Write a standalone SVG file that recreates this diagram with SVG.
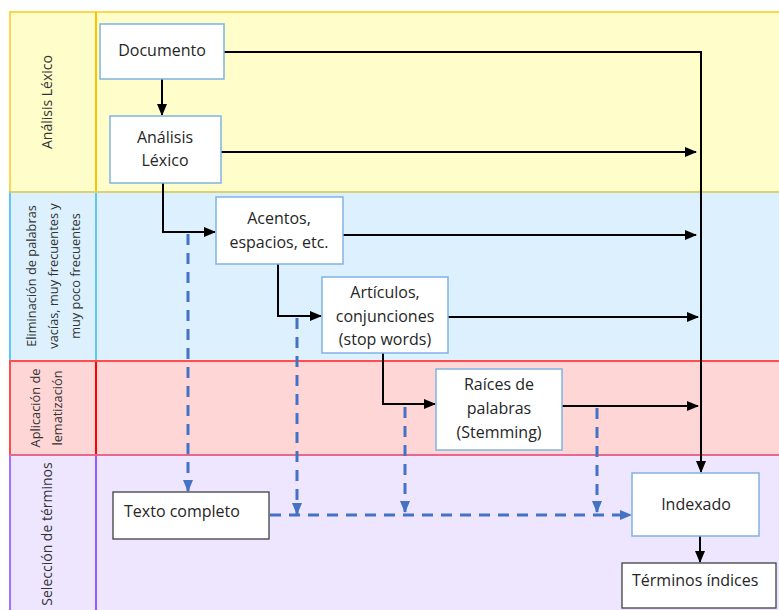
<svg xmlns="http://www.w3.org/2000/svg" width="779" height="610" viewBox="0 0 779 610">
<style>
.lbl{font-family:"Open Sans","Liberation Sans",sans-serif;fill:#333;text-anchor:middle}
.nt{font-family:"Open Sans","Liberation Sans",sans-serif;font-size:16px;fill:#262626;text-anchor:middle}
.node{fill:#fff;stroke:#7FB2E5;stroke-width:1.5}
.node2{fill:#fff;stroke:#404040;stroke-width:1.3}
.solid{fill:none;stroke:#000;stroke-width:2}
.dash{fill:none;stroke:#4472C4;stroke-width:3;stroke-dasharray:11 8}
</style>
<defs>
<marker id="ah" markerUnits="userSpaceOnUse" markerWidth="12" markerHeight="10" refX="11" refY="5" orient="auto">
<path d="M0,0 L12,5 L0,10 Z" fill="#000"/>
</marker>
<marker id="bh" markerUnits="userSpaceOnUse" markerWidth="12" markerHeight="10" refX="11" refY="5" orient="auto">
<path d="M0,0 L12,5 L0,10 Z" fill="#4472C4"/>
</marker>
</defs>
<rect width="779" height="610" fill="#fff"/>
<g id="lanes">
<rect x="10" y="12" width="780" height="180" fill="#FFFDCA" stroke="#FFD54F" stroke-width="2"/>
<line x1="96" y1="12" x2="96" y2="192" stroke="#FFC000" stroke-width="2"/>
<rect x="10" y="192" width="780" height="169" fill="#DCF1FD" stroke="#5FC6F7" stroke-width="2"/>
<line x1="96" y1="192" x2="96" y2="361" stroke="#5FC6F7" stroke-width="2"/>
<rect x="10" y="361" width="780" height="94" fill="#FFD6D6" stroke="#FF4D4D" stroke-width="2"/>
<line x1="96" y1="361" x2="96" y2="455" stroke="#FF0000" stroke-width="2"/>
<rect x="10" y="455" width="780" height="160" fill="#EEE6FF" stroke="#A070FF" stroke-width="2"/>
<line x1="96" y1="455" x2="96" y2="610" stroke="#8F5CFF" stroke-width="2"/>
<line x1="10" y1="192" x2="779" y2="192" stroke="#FFD54F" stroke-width="1.5"/>
<line x1="10" y1="361" x2="779" y2="361" stroke="#FF4D4D" stroke-width="1.5"/>
<line x1="10" y1="455" x2="779" y2="455" stroke="#FF6666" stroke-width="1.5"/>
<text class="lbl" font-size="14" transform="translate(52,102) rotate(-90)">Análisis Léxico</text>
<text class="lbl" font-size="12.8" transform="translate(36,276) rotate(-90)">Eliminación de palabras</text>
<text class="lbl" font-size="12.8" transform="translate(58,276) rotate(-90)">vacías, muy frecuentes y</text>
<text class="lbl" font-size="12.8" transform="translate(80,276) rotate(-90)">muy poco frecuentes</text>
<text class="lbl" font-size="12.8" transform="translate(40,408) rotate(-90)">Aplicación de</text>
<text class="lbl" font-size="12.8" transform="translate(62,408) rotate(-90)">lematización</text>
<text class="lbl" font-size="14" transform="translate(52,534) rotate(-90)">Selección de términos</text>
</g>
<g id="connectors">
<polyline class="solid" points="224,52 701,52 701,472" marker-end="url(#ah)"/>
<line class="solid" x1="162" y1="79" x2="162" y2="115" marker-end="url(#ah)"/>
<line class="solid" x1="221" y1="152" x2="696" y2="152" marker-end="url(#ah)"/>
<polyline class="solid" points="163,183 163,232 215,232" marker-end="url(#ah)"/>
<line class="solid" x1="343" y1="235" x2="696" y2="235" marker-end="url(#ah)"/>
<polyline class="solid" points="278,264 278,316 321,316" marker-end="url(#ah)"/>
<line class="solid" x1="448" y1="317" x2="698" y2="317" marker-end="url(#ah)"/>
<polyline class="solid" points="383,353 383,404 435,404" marker-end="url(#ah)"/>
<line class="solid" x1="562" y1="406" x2="698" y2="406" marker-end="url(#ah)"/>
<line class="solid" x1="700" y1="536" x2="700" y2="562" marker-end="url(#ah)"/>
<line class="dash" x1="188" y1="234" x2="188" y2="491" marker-end="url(#bh)"/>
<line class="dash" x1="297" y1="318" x2="297" y2="514" marker-end="url(#bh)"/>
<line class="dash" x1="405" y1="407" x2="405" y2="512" marker-end="url(#bh)"/>
<line class="dash" x1="597" y1="408" x2="597" y2="512" marker-end="url(#bh)"/>
<line class="dash" x1="270" y1="515" x2="631" y2="515" marker-end="url(#bh)"/>
</g>
<g id="n-documento"><rect class="node" x="100" y="24" width="124" height="55"/><text class="nt" x="162" y="56">Documento</text></g>
<g id="n-analisis"><rect class="node" x="110" y="116" width="111" height="67"/><text class="nt" x="165" y="143">Análisis</text><text class="nt" x="165" y="166">Léxico</text></g>
<g id="n-acentos"><rect class="node" x="216" y="197" width="127" height="67"/><text class="nt" x="279" y="224">Acentos,</text><text class="nt" x="279" y="248">espacios, etc.</text></g>
<g id="n-articulos"><rect class="node" x="322" y="277" width="126" height="76"/><text class="nt" x="385" y="298">Artículos,</text><text class="nt" x="385" y="322">conjunciones</text><text class="nt" x="385" y="345">(stop words)</text></g>
<g id="n-raices"><rect class="node" x="436" y="369" width="126" height="81"/><text class="nt" x="499" y="390">Raíces de</text><text class="nt" x="499" y="414">palabras</text><text class="nt" x="499" y="438">(Stemming)</text></g>
<g id="n-texto"><rect class="node2" x="113" y="492" width="156" height="47"/><text class="nt" x="124" y="517" style="text-anchor:start">Texto completo</text></g>
<g id="n-indexado"><rect class="node" x="632" y="473" width="127" height="63"/><text class="nt" x="696" y="510">Indexado</text></g>
<g id="n-terminos"><rect class="node2" x="622" y="563" width="154" height="45"/><text class="nt" x="632" y="586" style="text-anchor:start">Términos índices</text></g>
</svg>
